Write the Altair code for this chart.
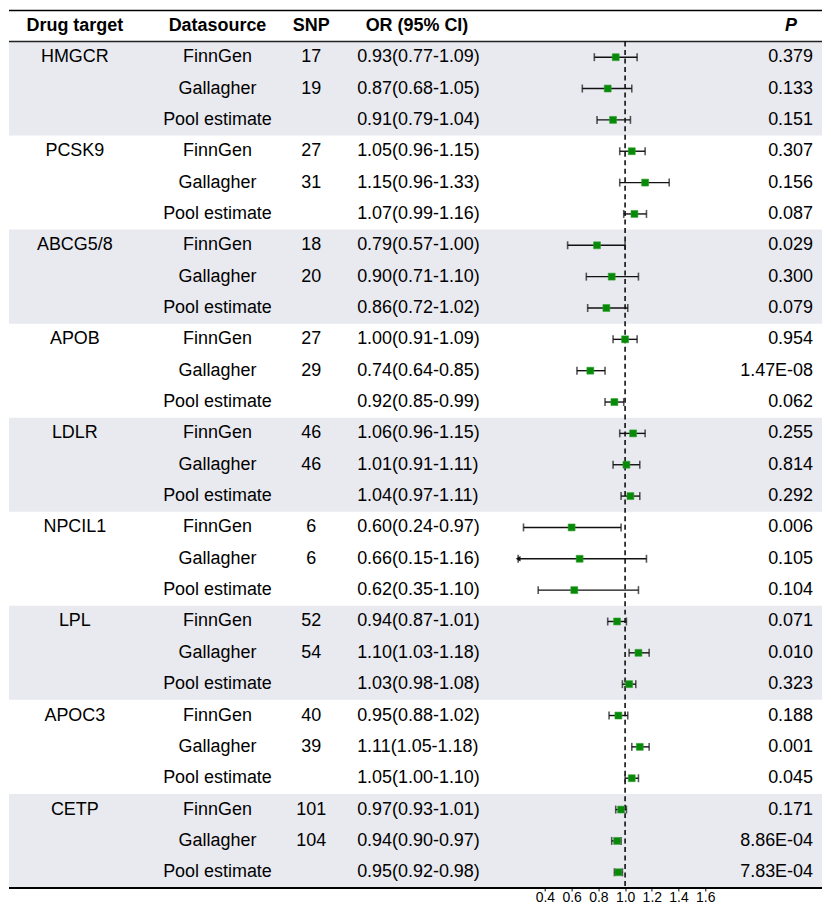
import altair as alt
import pandas as pd

# ---------------- data ----------------
targets = ["HMGCR", "PCSK9", "ABCG5/8", "APOB", "LDLR", "NPCIL1", "LPL", "APOC3", "CETP"]
sources = ["FinnGen", "Gallagher", "Pool estimate"]
snp_finngen = [17, 27, 18, 27, 46, 6, 52, 40, 101]
snp_gallagher = [19, 31, 20, 29, 46, 6, 54, 39, 104]

or_vals = [0.93, 0.87, 0.91, 1.05, 1.15, 1.07, 0.79, 0.90, 0.86,
           1.00, 0.74, 0.92, 1.06, 1.01, 1.04, 0.60, 0.66, 0.62,
           0.94, 1.10, 1.03, 0.95, 1.11, 1.05, 0.97, 0.94, 0.95]
ci_low = [0.77, 0.68, 0.79, 0.96, 0.96, 0.99, 0.57, 0.71, 0.72,
          0.91, 0.64, 0.85, 0.96, 0.91, 0.97, 0.24, 0.15, 0.35,
          0.87, 1.03, 0.98, 0.88, 1.05, 1.00, 0.93, 0.90, 0.92]
ci_high = [1.09, 1.05, 1.04, 1.15, 1.33, 1.16, 1.00, 1.10, 1.02,
           1.09, 0.85, 0.99, 1.15, 1.11, 1.11, 0.97, 1.16, 1.10,
           1.01, 1.18, 1.08, 1.02, 1.18, 1.10, 1.01, 0.97, 0.98]
p_text = ["0.379", "0.133", "0.151", "0.307", "0.156", "0.087", "0.029", "0.300", "0.079",
          "0.954", "1.47E-08", "0.062", "0.255", "0.814", "0.292", "0.006", "0.105", "0.104",
          "0.071", "0.010", "0.323", "0.188", "0.001", "0.045", "0.171", "8.86E-04", "7.83E-04"]
tick_values = [0.4, 0.6, 0.8, 1.0, 1.2, 1.4, 1.6]
x_min, x_max = 0.2, 1.8

# ---------------- table ----------------
rows = []
for g, t in enumerate(targets):
    snps = [str(snp_finngen[g]), str(snp_gallagher[g]), ""]
    for k, s in enumerate(sources):
        i = 3 * g + k
        rows.append({
            "row": i,
            "target": t if k == 0 else "",
            "source": s,
            "snp": snps[k],
            "ortext": f"{or_vals[i]:.2f}({ci_low[i]:.2f}-{ci_high[i]:.2f})",
            "p": p_text[i],
            "or": or_vals[i],
            "lo": ci_low[i],
            "hi": ci_high[i],
        })
df = pd.DataFrame(rows)

bands = pd.DataFrame({"y": [3 * g - 0.5 for g in range(0, 9, 2)],
                      "y2": [3 * g + 2.5 for g in range(0, 9, 2)]})
header = pd.DataFrame({"row": [-1]})

# ---------------- layout ----------------
FONT = "Liberation Sans"
W, H = 815, 898
HEADER_LINE_PX = 32.5
BOTTOM_LINE_PX = 881.0
PITCH = (BOTTOM_LINE_PX - HEADER_LINE_PX) / 27
ROW0 = HEADER_LINE_PX + PITCH / 2
ytop = -ROW0 / PITCH
ybot = (H - ROW0) / PITCH
BOTTOM_LINE = 26.5
TOP_LINE = (1.3 - ROW0) / PITCH
axis_offset = BOTTOM_LINE_PX - H

yscale = alt.Scale(domain=[ytop, ybot], reverse=True, nice=False, zero=False)
xscale = alt.Scale(domain=[x_min, x_max], range=[510.4, 724.8], clamp=True, nice=False, zero=False)
xaxis = alt.Axis(values=tick_values, format=".1f", title=None, domain=False, grid=False,
                 ticks=True, tickSize=3, tickColor="black", tickWidth=1, offset=axis_offset,
                 labelFontSize=14, labelFont=FONT, labelColor="black", labelPadding=0)
Y = dict(scale=yscale, axis=None)

base = alt.Chart(df)

band_layer = alt.Chart(bands).mark_rect(color="#E9EAF0").encode(
    x=alt.value(0), x2=alt.value(W), y=alt.Y("y:Q", **Y), y2="y2:Q")


def hline(yv, sw, color="black"):
    return alt.Chart(pd.DataFrame({"y": [yv]})).mark_rule(color=color, strokeWidth=sw).encode(
        x=alt.value(0), x2=alt.value(W), y=alt.Y("y:Q", **Y))


dash = alt.Chart(pd.DataFrame({"y": [-0.5], "y2": [BOTTOM_LINE]})).mark_rule(
    color="black", strokeWidth=1.5, strokeDash=[5, 3.5]).encode(
    x=alt.X("v:Q", scale=xscale, axis=xaxis), y=alt.Y("y:Q", **Y), y2="y2:Q"
).transform_calculate(v="1.0")

err = base.mark_rule(color="#111", strokeWidth=1.4).encode(
    x=alt.X("lo:Q", scale=xscale, axis=xaxis), x2="hi:Q", y=alt.Y("row:Q", **Y))
cap_lo = base.mark_tick(color="#111", orient="vertical", size=8, thickness=1.6).encode(
    x=alt.X("lo:Q", scale=xscale, axis=xaxis), y=alt.Y("row:Q", **Y))
cap_hi = base.mark_tick(color="#111", orient="vertical", size=8, thickness=1.6).encode(
    x=alt.X("hi:Q", scale=xscale, axis=xaxis), y=alt.Y("row:Q", **Y))
arrow = base.transform_filter(alt.datum.lo < x_min).mark_point(
    shape="triangle-left", filled=True, size=30, color="#111", opacity=1).encode(
    x=alt.X("lo:Q", scale=xscale, axis=xaxis), y=alt.Y("row:Q", **Y))
pts = base.mark_point(shape="square", filled=True, size=48, color="#078A07", opacity=1,
                      stroke="#2FA02F", strokeWidth=0.6).encode(
    x=alt.X("or:Q", scale=xscale, axis=xaxis), y=alt.Y("row:Q", **Y))


def col(field, xpos, align="center"):
    return base.mark_text(font=FONT, fontSize=18, align=align, baseline="middle", color="black").encode(
        x=alt.value(xpos), y=alt.Y("row:Q", **Y), text=f"{field}:N")


def head(label, xpos, align="center", italic=False):
    return alt.Chart(header).mark_text(font=FONT, fontSize=18, fontWeight="bold", align=align,
                                       baseline="middle", color="black",
                                       fontStyle="italic" if italic else "normal").encode(
        x=alt.value(xpos), y=alt.Y("row:Q", **Y), text=alt.value(label))


chart = alt.layer(
    band_layer,
    hline(TOP_LINE, 1.5), hline(-0.5, 1.5, "#222"), hline(BOTTOM_LINE, 2),
    dash, err, cap_lo, cap_hi, arrow, pts,
    col("target", 66), col("source", 209), col("snp", 303), col("ortext", 349, "left"),
    col("p", 806, "right"),
    head("Drug target", 66), head("Datasource", 209), head("SNP", 303),
    head("OR (95% CI)", 409), head("P", 784, italic=True),
).properties(width=W, height=H, padding=0).configure_view(stroke=None)

chart.save("out.html", embed_options={"renderer": "svg", "actions": False})
